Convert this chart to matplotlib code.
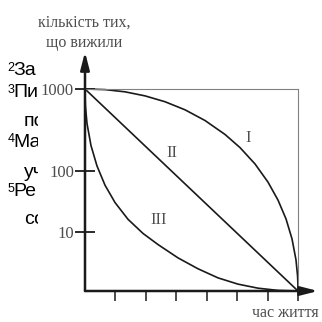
#!/usr/bin/env python3
"""Survivorship curves (types I, II, III) with the clipped side text."""

import matplotlib

matplotlib.use("Agg")
import matplotlib.pyplot as plt
from matplotlib.patches import Rectangle

W = H = 322  # figure size, px

# curve I: convex, most survive until old age
curve1_x = [0.0, 0.657, 1.315, 1.972, 2.629, 3.287, 3.944, 4.601, 5.094, 5.587,
            6.014, 6.343, 6.606, 6.803, 6.934, 6.986, 6.9965, 7.0]
curve1_y = [1.0, 0.997, 0.986, 0.966, 0.937, 0.897, 0.844, 0.775, 0.710, 0.629,
            0.539, 0.450, 0.357, 0.258, 0.154, 0.074, 0.038, 0.0]
# curve II: straight line
curve2_x = [0.0, 7.0]
curve2_y = [1.0, 0.0]
# curve III: concave, most die early
curve3_x = [0.0, 0.0035, 0.014, 0.066, 0.197, 0.394, 0.657, 0.986, 1.413, 1.906,
            2.399, 3.056, 3.714, 4.371, 5.028, 5.685, 6.343, 7.0]
curve3_y = [1.0, 0.955, 0.915, 0.829, 0.720, 0.619, 0.524, 0.438, 0.355, 0.285,
            0.230, 0.164, 0.110, 0.065, 0.034, 0.014, 0.003, 0.0]

ytick_pos = [1.0, 0.596, 0.294]
ytick_labels = ["1000", "100", "10"]
xtick_pos = [1, 2, 3, 4, 5, 6, 7]

curve_names = ["I", "II", "III"]
name_x = [5.37, 2.85, 2.41]
name_y = [0.756, 0.685, 0.351]

# clipped side text: (superscript, text, baseline px)
side_lines = [("2", "За", 75), ("3", "Пи", 97), ("", "по", 126), ("4", "Ма", 147),
              ("", "уч", 177), ("5", "Ре", 196), ("", "со", 224)]

SERIF = "Liberation Serif"
GRAY = "#4d4d4d"
INK = "#1a1a1a"

fig = plt.figure(figsize=(W / 100, H / 100), dpi=100)
ax = fig.add_axes([85 / W, (H - 291) / H, 213 / W, 202 / H])
ax.set_xlim(0, 7)
ax.set_ylim(0, 1)
ax.patch.set_alpha(0)

ax.plot(curve1_x, curve1_y, color=INK, lw=1.2, solid_capstyle="round", clip_on=False)
ax.plot(curve2_x, curve2_y, color=INK, lw=1.2, clip_on=False)
ax.plot(curve3_x, curve3_y, color=INK, lw=1.2, solid_capstyle="round", clip_on=False)

for name, tx, ty in zip(curve_names, name_x, name_y):
    ax.text(tx, ty, name, family=SERIF, fontsize=12, color=GRAY, ha="center", va="center")

for side in ["left", "bottom"]:
    ax.spines[side].set_visible(False)
for side in ["top", "right"]:
    ax.spines[side].set_color("#808080")
    ax.spines[side].set_linewidth(0.8)

# axes with arrows
arrow = dict(arrowstyle="-|>,head_length=0.7,head_width=0.18", lw=1.8, color=INK,
             mutation_scale=15, shrinkA=0, shrinkB=0)
ax.annotate("", xy=(0, (291 - 52) / 202), xytext=(0, 0), arrowprops=arrow,
            annotation_clip=False)
ax.annotate("", xy=((318 - 85) / 30.43, 0), xytext=(0, 0), arrowprops=arrow,
            annotation_clip=False)

ax.set_yticks(ytick_pos, ytick_labels)
ax.set_xticks(xtick_pos, [""] * len(xtick_pos))
ax.tick_params(axis="y", direction="inout", length=14, width=1.3, color=INK, pad=1,
               labelsize=12, labelcolor=GRAY)
ax.tick_params(axis="x", direction="out", length=7, width=1.1, color=INK)
for lab in ax.get_yticklabels():
    lab.set_family(SERIF)

fig.text(84 / W, 1 - 27 / H, "кількість тих,", family=SERIF, fontsize=11.5, color=GRAY,
         ha="center", va="baseline")
fig.text(84 / W, 1 - 47 / H, "що вижили", family=SERIF, fontsize=11.5, color=GRAY,
         ha="center", va="baseline")
fig.text(319 / W, 1 - 317 / H, "час життя", family=SERIF, fontsize=11.5, color=GRAY,
         ha="right", va="baseline")

clip = Rectangle((0, 0), 38 / W, 1, transform=fig.transFigure)
for sup, txt, base in side_lines:
    x0 = 13 if sup else 24
    t = fig.text(x0 / W, 1 - base / H, txt, family="Liberation Sans", fontsize=14,
                 color="black", va="baseline")
    t.set_clip_path(clip)
    if sup:
        s = fig.text(7.5 / W, 1 - (base - 4.5) / H, sup, family="Liberation Sans",
                     fontsize=9, color="black", va="baseline")
        s.set_clip_path(clip)

fig.savefig("out.png", dpi=100)
